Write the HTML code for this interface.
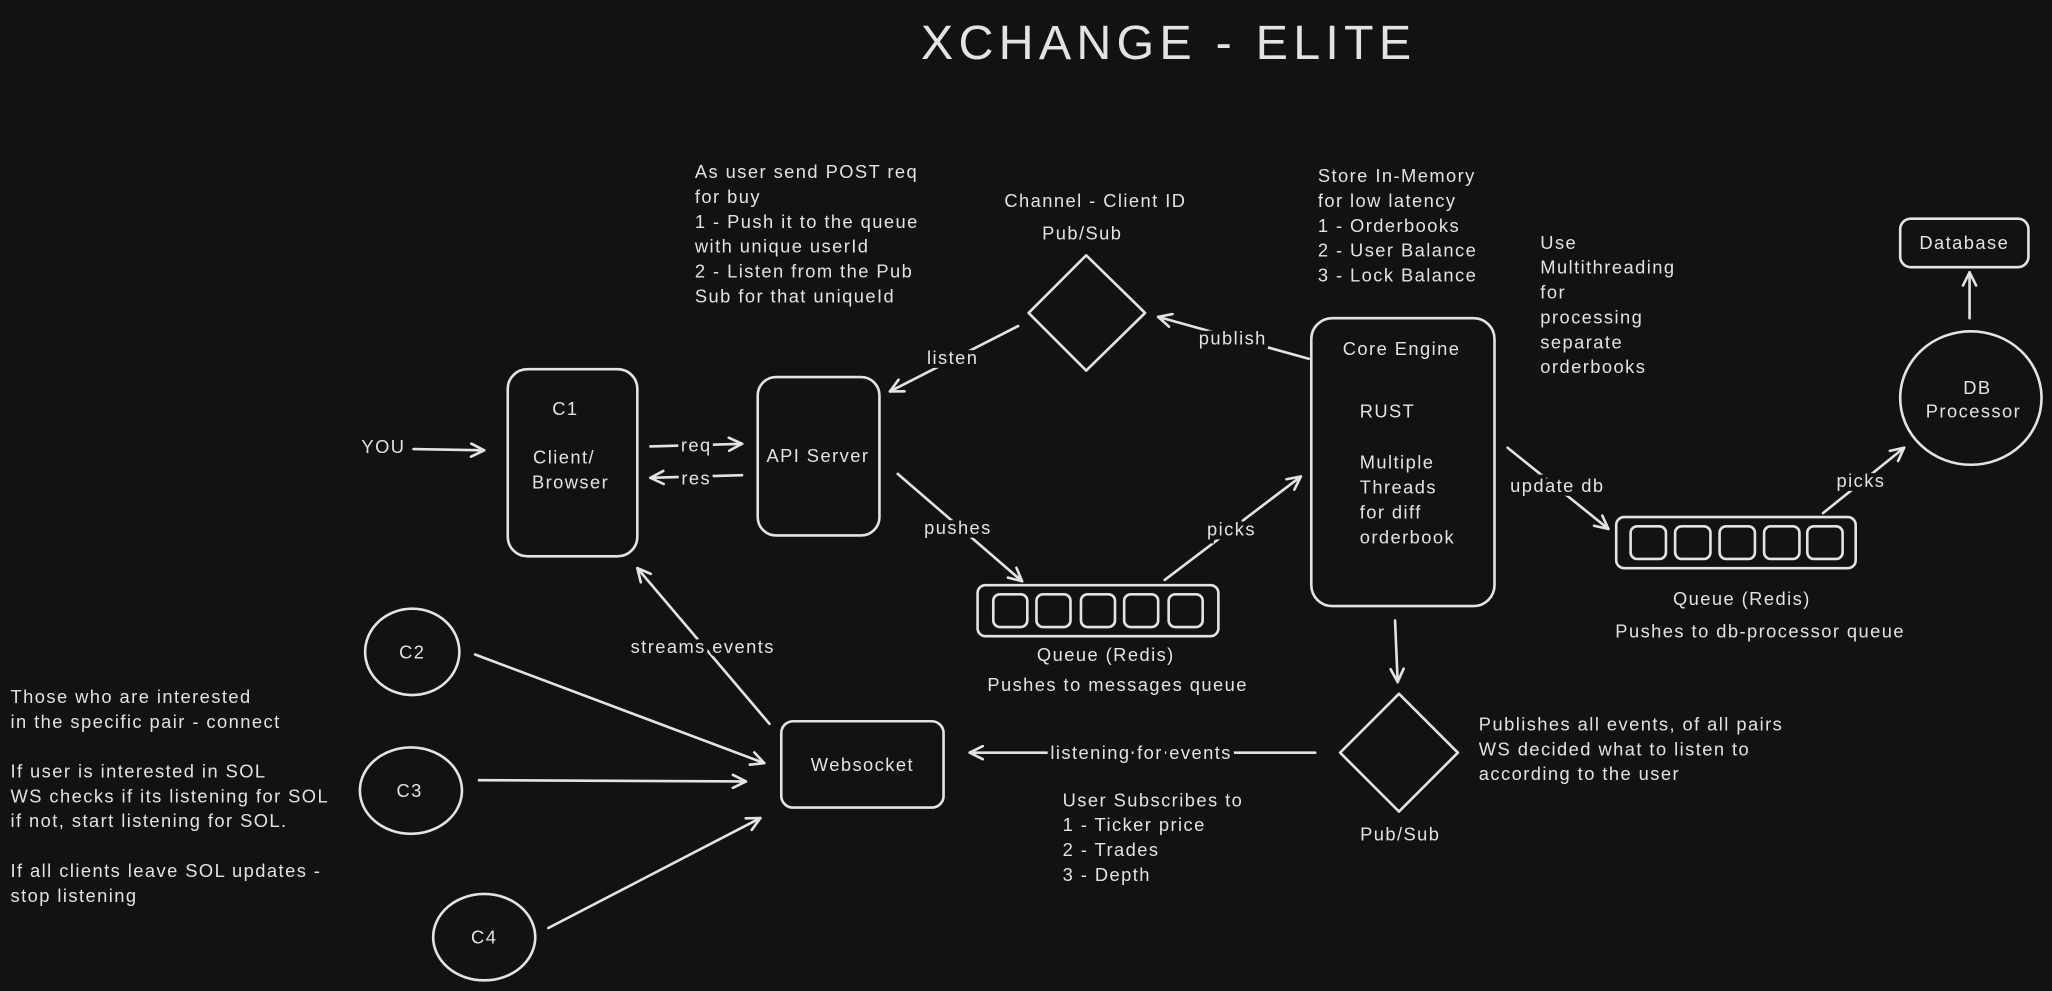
<!DOCTYPE html>
<html><head><meta charset="utf-8"><style>
html,body{margin:0;padding:0;background:#121212;}
svg{display:block}
text{font-family:"Liberation Sans",sans-serif;fill:#e3e3e3;font-size:14px;letter-spacing:1.1px}
.l{stroke:#121212;stroke-width:6px;paint-order:stroke;}
.s{fill:none;stroke:#e3e3e3;stroke-width:2;stroke-linecap:round;stroke-linejoin:round}
</style></head><body>
<svg width="2052" height="991" viewBox="0 0 1568 757" xmlns="http://www.w3.org/2000/svg">
<defs><marker id="a" viewBox="0 0 12 12" refX="11" refY="6" markerWidth="12" markerHeight="12" markerUnits="userSpaceOnUse" orient="auto"><path d="M1,1 L11,6 L1,11" fill="none" stroke="#e3e3e3" stroke-width="2" stroke-linecap="round"/></marker></defs>
<rect width="1568" height="757" fill="#121212"/>
<text x="893" y="45" text-anchor="middle" style="font-size:37px;letter-spacing:4px">XCHANGE - ELITE</text>

<!-- C1 -->
<rect class="s" x="388" y="282" width="99" height="143" rx="15"/>
<text x="432" y="317" text-anchor="middle">C1</text>
<text x="431" y="354" text-anchor="middle">Client/</text>
<text x="436" y="373" text-anchor="middle">Browser</text>
<text x="293" y="346" text-anchor="middle">YOU</text>
<line class="s" x1="316" y1="343" x2="370" y2="344" marker-end="url(#a)"/>

<!-- API -->
<rect class="s" x="579" y="288" width="93" height="121" rx="14"/>
<text x="625" y="353" text-anchor="middle">API Server</text>
<line class="s" x1="497" y1="341" x2="567" y2="339" marker-end="url(#a)"/>
<text class="l" x="532" y="345" text-anchor="middle">req</text>
<line class="s" x1="567" y1="363" x2="497" y2="365" marker-end="url(#a)"/>
<text class="l" x="532" y="370" text-anchor="middle">res</text>

<g><text x="531" y="136">As user send POST req</text><text x="531" y="155">for buy</text><text x="531" y="174">1 - Push it to the queue</text><text x="531" y="193">with unique userId</text><text x="531" y="212">2 - Listen from the Pub</text><text x="531" y="231">Sub for that uniqueId</text></g>

<!-- diamond top -->
<path class="s" d="M830,195 L875,239 L830,283 L786,239 Z"/>
<text x="837" y="158" text-anchor="middle">Channel - Client ID</text>
<text x="827" y="183" text-anchor="middle">Pub/Sub</text>
<line class="s" x1="778" y1="249" x2="680" y2="299" marker-end="url(#a)"/>
<text class="l" x="728" y="278" text-anchor="middle">listen</text>
<line class="s" x1="1000" y1="274" x2="885" y2="242" marker-end="url(#a)"/>
<text class="l" x="942" y="263" text-anchor="middle">publish</text>

<!-- Core -->
<rect class="s" x="1002" y="243" width="140" height="220" rx="16"/>
<text x="1071" y="271" text-anchor="middle">Core Engine</text>
<text x="1039" y="319">RUST</text>
<text x="1039" y="358">Multiple</text><text x="1039" y="377">Threads</text><text x="1039" y="396">for diff</text><text x="1039" y="415">orderbook</text>
<g><text x="1007" y="139">Store In-Memory</text><text x="1007" y="158">for low latency</text><text x="1007" y="177">1 - Orderbooks</text><text x="1007" y="196">2 - User Balance</text><text x="1007" y="215">3 - Lock Balance</text></g>
<g><text x="1177" y="190">Use</text><text x="1177" y="209">Multithreading</text><text x="1177" y="228">for</text><text x="1177" y="247">processing</text><text x="1177" y="266">separate</text><text x="1177" y="285">orderbooks</text></g>

<!-- DB -->
<rect class="s" x="1452" y="167" width="98" height="37" rx="8"/>
<text x="1501" y="190" text-anchor="middle">Database</text>
<line class="s" x1="1505" y1="243" x2="1505" y2="208" marker-end="url(#a)"/>
<ellipse class="s" cx="1506" cy="304" rx="54" ry="51"/>
<text x="1511" y="301" text-anchor="middle">DB</text>
<text x="1508" y="319" text-anchor="middle">Processor</text>

<!-- right queue -->
<rect class="s" x="1235" y="395" width="183" height="39" rx="6"/>
<g class="s"><rect x="1246" y="402" width="27" height="25" rx="5"/><rect x="1280" y="402" width="27" height="25" rx="5"/><rect x="1314" y="402" width="27" height="25" rx="5"/><rect x="1348" y="402" width="27" height="25" rx="5"/><rect x="1381" y="402" width="27" height="25" rx="5"/></g>
<text x="1331" y="462" text-anchor="middle">Queue (Redis)</text>
<text x="1345" y="487" text-anchor="middle">Pushes to db-processor queue</text>
<line class="s" x1="1152" y1="342" x2="1229" y2="404" marker-end="url(#a)"/>
<text class="l" x="1190" y="376" text-anchor="middle">update db</text>
<line class="s" x1="1393" y1="392" x2="1455" y2="342" marker-end="url(#a)"/>
<text class="l" x="1422" y="372" text-anchor="middle">picks</text>

<!-- middle queue -->
<rect class="s" x="747" y="447" width="184" height="39" rx="6"/>
<g class="s"><rect x="759" y="454" width="26" height="25" rx="5"/><rect x="792" y="454" width="26" height="25" rx="5"/><rect x="826" y="454" width="26" height="25" rx="5"/><rect x="859" y="454" width="26" height="25" rx="5"/><rect x="893" y="454" width="26" height="25" rx="5"/></g>
<text x="845" y="505" text-anchor="middle">Queue (Redis)</text>
<text x="854" y="528" text-anchor="middle">Pushes to messages queue</text>
<line class="s" x1="686" y1="362" x2="781" y2="444" marker-end="url(#a)"/>
<text class="l" x="732" y="408" text-anchor="middle">pushes</text>
<line class="s" x1="890" y1="443" x2="994" y2="364" marker-end="url(#a)"/>
<text class="l" x="941" y="409" text-anchor="middle">picks</text>

<!-- lower pubsub -->
<line class="s" x1="1066" y1="474" x2="1068" y2="521" marker-end="url(#a)"/>
<path class="s" d="M1069,530 L1114,575 L1069,620 L1024,575 Z"/>
<text x="1070" y="642" text-anchor="middle">Pub/Sub</text>
<g><text x="1130" y="558">Publishes all events, of all pairs</text><text x="1130" y="577">WS decided what to listen to</text><text x="1130" y="596">according to the user</text></g>
<line class="s" x1="1005" y1="575" x2="741" y2="575" marker-end="url(#a)"/>
<text class="l" x="872" y="580" text-anchor="middle">listening for events</text>

<!-- websocket -->
<rect class="s" x="597" y="551" width="124" height="66" rx="9"/>
<text x="659" y="589" text-anchor="middle">Websocket</text>
<g><text x="812" y="616">User Subscribes to</text><text x="812" y="635">1 - Ticker price</text><text x="812" y="654">2 - Trades</text><text x="812" y="673">3 - Depth</text></g>
<line class="s" x1="588" y1="553" x2="487" y2="434" marker-end="url(#a)"/>
<text class="l" x="537" y="499" text-anchor="middle">streams events</text>

<!-- clients -->
<ellipse class="s" cx="315" cy="498" rx="36" ry="33"/><text x="315" y="503" text-anchor="middle">C2</text>
<ellipse class="s" cx="314" cy="604" rx="39" ry="33"/><text x="313" y="609" text-anchor="middle">C3</text>
<ellipse class="s" cx="370" cy="716" rx="39" ry="33"/><text x="370" y="721" text-anchor="middle">C4</text>
<line class="s" x1="363" y1="500" x2="584" y2="583" marker-end="url(#a)"/>
<line class="s" x1="366" y1="596" x2="570" y2="597" marker-end="url(#a)"/>
<line class="s" x1="419" y1="709" x2="581" y2="625" marker-end="url(#a)"/>

<g><text x="8" y="537">Those who are interested</text><text x="8" y="556">in the specific pair - connect</text><text x="8" y="594">If user is interested in SOL</text><text x="8" y="613">WS checks if its listening for SOL</text><text x="8" y="632">if not, start listening for SOL.</text><text x="8" y="670">If all clients leave SOL updates -</text><text x="8" y="689">stop listening</text></g>
</svg>
</body></html>
